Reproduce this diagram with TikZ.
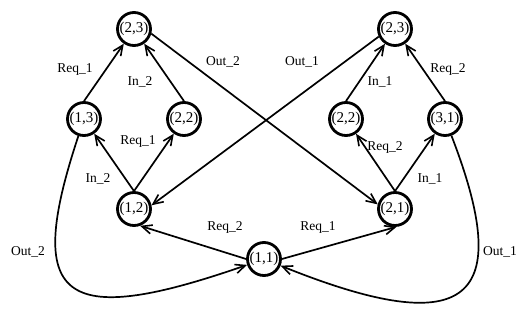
\documentclass[tikz,border=0pt]{standalone}
\usepackage{fontspec}
\setmainfont{Liberation Serif}
\usetikzlibrary{arrows.meta}
\tikzset{
  state/.style={circle,draw,line width=2.8pt,minimum size=33pt,inner sep=0pt,font=\fontsize{15}{16}\selectfont},
  lbl/.style={inner sep=0pt,font=\fontsize{13.5}{14}\selectfont},
  edge/.style={line width=1.7pt,-{Straight Barb[length=10pt,width=9pt,line width=1.6pt]}}
}
\begin{document}
\begin{tikzpicture}[x=1pt,y=-1pt]
\useasboundingbox (0,0) rectangle (531,316);
% states
\node[state] (L23) at (134,29) {(2,3)};
\node[state] (L13) at (84,119) {(1,3)};
\node[state] (L22) at (184,119) {(2,2)};
\node[state] (L12) at (134,209) {(1,2)};
\node[state] (R23) at (395,29) {(2,3)};
\node[state] (R22) at (346,119) {(2,2)};
\node[state] (R31) at (445,119) {(3,1)};
\node[state] (R21) at (395,209) {(2,1)};
\node[state] (N11) at (264,259) {(1,1)};
% edges
\draw[edge] (L13.north) -- (L23);
\draw[edge] (L22.north) -- (L23);
\draw[edge] (L12.north) -- (L13);
\draw[edge] (L12.north) -- (L22);
\draw[edge] (R22.north) -- (R23);
\draw[edge] (R31.north) -- (R23);
\draw[edge] (R21.north) -- (R22);
\draw[edge] (R21.north) -- (R31);
\draw[edge] (L23.-15) -- (R21.165);
\draw[edge] (R23.205) -- (L12.12);
\draw[edge] (N11.west) -- (L12.-70);
\draw[edge] (N11.east) -- (R21.-85);
\draw[edge] (L13) .. controls (24,300) and (60,330) .. (N11);
\draw[edge] (R31) .. controls (515,300) and (470,342) .. (N11);
% labels
\node[lbl] (t1) at (75,69) {Req\_1};
\node[lbl] (t2) at (140,82) {In\_2};
\node[lbl] (t3) at (223,62) {Out\_2};
\node[lbl] (t4) at (138,141) {Req\_1};
\node[lbl] (t5) at (302,62) {Out\_1};
\node[lbl] (t6) at (380,82) {In\_1};
\node[lbl] (t7) at (448,69) {Req\_2};
\node[lbl] (t8) at (385,147) {Req\_2};
\node[lbl] (t9) at (98,179) {In\_2};
\node[lbl] (t10) at (225,227) {Req\_2};
\node[lbl] (t11) at (28,252) {Out\_2};
\node[lbl] (t12) at (430,179) {In\_1};
\node[lbl] (t13) at (318,227) {Req\_1};
\node[lbl] (t14) at (500,252) {Out\_1};
\end{tikzpicture}
\end{document}
